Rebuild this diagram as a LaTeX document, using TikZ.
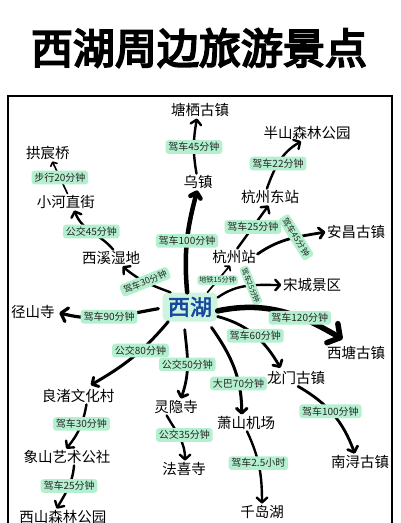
\documentclass[tikz,border=0pt]{standalone}
\usepackage{fontspec}
\setmainfont{Noto Sans CJK SC}
\newfontfamily\titlefont[FakeBold=4.5]{Noto Sans CJK SC}
\newfontfamily\lakefont[FakeBold=2.5]{Noto Sans CJK SC}
\usetikzlibrary{arrows.meta}
\definecolor{mint}{RGB}{180,240,208}
\definecolor{lakefill}{RGB}{205,245,222}
\definecolor{lakeblue}{RGB}{22,72,158}
\begin{document}
\begin{tikzpicture}[x=1pt,y=1pt,
 place/.style={inner sep=1.5pt,font=\fontsize{14.5}{16}\selectfont},
 lab/.style={fill=mint,rounded corners=3pt,inner xsep=2.8pt,inner ysep=2.2pt,font=\fontsize{10}{11}\selectfont,text=black!85},
 slab/.style={lab,inner xsep=1.8pt,inner ysep=1.5pt,font=\fontsize{7.2}{8}\selectfont},
 con/.style={line width=2.4pt,line cap=round,-{Straight Barb[length=4.8pt,width=10.5pt,round]}},
 thinline/.style={line width=1.7pt,-{Straight Barb[length=3pt,width=7pt,round]}},
]
\useasboundingbox (0,0) rectangle (400,-523);
\clip (0,0) rectangle (400,-523);
\fill[white] (0,0) rectangle (400,-523);
\node[font=\titlefont\fontsize{42}{44}\selectfont] (title) at (199,-48) {西湖周边旅游景点};
\draw[line width=2.6pt] (8,-96) rectangle (392,-540);

% places
\node[fill=lakefill,rounded corners=5pt,minimum width=55pt,minimum height=29pt,inner sep=0pt,text=lakeblue,font=\lakefont\fontsize{22}{24}\selectfont] (xihu) at (190,-307) {西湖};
\node[place] (tangqi) at (200,-110) {塘栖古镇};
\node[place] (wuzhen) at (198,-182) {乌镇};
\node[place] (banshan) at (307,-133) {半山森林公园};
\node[place] (hzeast) at (270,-197) {杭州东站};
\node[place] (gongchen) at (48,-153) {拱宸桥};
\node[place] (xiaohe) at (66,-202) {小河直街};
\node[place] (anchang) at (356,-232) {安昌古镇};
\node[place] (xixi) at (111,-258) {西溪湿地};
\node[place] (hzzhan) at (234,-257) {杭州站};
\node[place] (songcheng) at (312,-285) {宋城景区};
\node[place] (jingshan) at (33,-312) {径山寺};
\node[place] (xitang) at (356,-353) {西塘古镇};
\node[place] (longmen) at (296,-378) {龙门古镇};
\node[place] (liangzhu) at (78,-396) {良渚文化村};
\node[place] (lingyin) at (176,-407) {灵隐寺};
\node[place] (xiaoshan) at (246,-423) {萧山机场};
\node[place] (xiangshan) at (67,-457) {象山艺术公社};
\node[place] (faxi) at (184,-469) {法喜寺};
\node[place] (nanxun) at (360,-462) {南浔古镇};
\node[place] (qiandao) at (262,-512) {千岛湖};
\node[place] (xishan) at (63,-517) {西山森林公园};

% connectors
\draw[con,line width=4.5pt] (xihu.101) to[out=95,in=-105] node[lab,pos=.5] (l4) {驾车100分钟} (wuzhen.-95);
\draw[con] (wuzhen.100) to[out=100,in=-100] node[lab,pos=.48] (l1) {驾车45分钟} (tangqi.-110);
\draw[con,thinline] (xihu.40) -- node[slab,pos=.45] (l9) {地铁15分钟} (hzzhan.-115);
\draw[con] (hzzhan.69) -- node[lab,pos=.5] (l6) {驾车25分钟} (hzeast.-100);
\draw[con] (hzeast.110) to[out=70,in=-150] node[lab,pos=.45] (l5) {驾车22分钟} (banshan.-125);
\draw[con,line width=2.8pt] (hzzhan.7) to[out=35,in=190] node[lab,font=\fontsize{8.5}{9}\selectfont,rotate=-58,pos=.6] (l7) {驾车45分钟} (anchang.180);
\draw[con] (xihu.19) to[out=35,in=180] node[slab,rotate=-68,pos=.55] (l10) {驾车25分钟} (songcheng.180);
\draw[con,line width=5.5pt,-{Straight Barb[length=9pt,width=22pt,round]},shorten >=11pt] (xihu.-8) to[out=12,in=150] node[lab,pos=.6] (l12) {驾车120分钟} (xitang.115);
\draw[con,line width=2.8pt,shorten >=2pt] (xihu.-19) to[out=-15,in=120] node[lab,pos=.5] (l13) {驾车60分钟} (longmen.150);
\draw[con,line width=3.2pt,-{Straight Barb[length=6pt,width=14pt,round]},shorten <=4pt,shorten >=3pt] (xihu.182) to[out=190,in=-15] node[lab,pos=.5] (l11) {驾车90分钟} (jingshan.0);
\draw[con] (xihu.143) to[out=160,in=-40] node[lab,font=\fontsize{9}{10}\selectfont,rotate=22,pos=.5] (l8) {驾车30分钟} (xixi.-36);
\draw[con] (xixi.75) to[out=130,in=-70] node[lab,pos=.5] (l3) {公交45分钟} (xiaohe.-45);
\draw[con,line width=1.6pt,-{Straight Barb[length=3pt,width=7pt,round]}] (xiaohe.80) -- node[lab,pos=.5] (l2) {步行20分钟} (gongchen.-63);
\draw[con,line width=3pt,shorten >=5pt] (xihu.-146) to[out=-130,in=30] node[lab,pos=.37] (l14) {公交80分钟} (liangzhu.45);
\draw[con,line width=2.8pt,shorten <=8pt] (xihu.-112) to[out=-85,in=70] node[lab,pos=.55] (l15) {公交50分钟} (lingyin.60);
\draw[con,line width=3pt,shorten <=7pt] (xihu.-40) to[out=-55,in=90] node[lab,pos=.7] (l16) {大巴70分钟} (xiaoshan.117);
\draw[con,line width=2.8pt] (longmen.-76) to[out=-30,in=110] node[lab,pos=.45] (l17) {驾车100分钟} (nanxun.122);
\draw[con] (liangzhu.-45) to[out=-100,in=50] node[lab,pos=.4] (l18) {驾车30分钟} (xiangshan.95);
\draw[con] (xiangshan.-50) to[out=-95,in=60] node[lab,pos=.45] (l20) {驾车25分钟} (xishan.127);
\draw[con] (lingyin.-138) to[out=-60,in=90] node[lab,pos=.45,xshift=6pt] (l19) {公交35分钟} (faxi.83);
\draw[con] (xiaoshan.-83) to[out=-65,in=90] node[lab,pos=.45] (l21) {驾车2.5小时} (qiandao.90);
\end{tikzpicture}
\end{document}
